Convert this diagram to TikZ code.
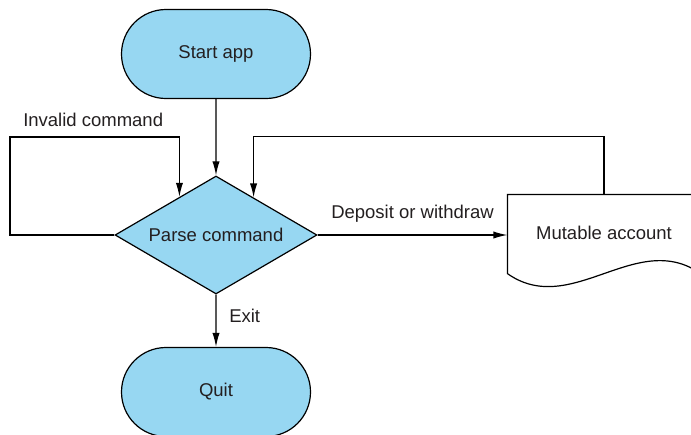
\documentclass[tikz,border=0pt]{standalone}
\usepackage{fontspec}
\setmainfont{Liberation Sans}
\usepackage{xcolor}
\usepackage{tikz}
\usetikzlibrary{arrows.meta,positioning,calc,shapes.misc,shapes.geometric}
\definecolor{flowBlue}{HTML}{97D7F2}
\definecolor{inkGray}{HTML}{231F20}

\begin{document}
\begin{tikzpicture}[x=0.5pt, y=-0.5pt, line width=0.6pt,
  font=\fontsize{9.25}{11}\selectfont, text=inkGray,
  term/.style={draw, fill=flowBlue, rounded rectangle, minimum width=94.5pt, minimum height=44.5pt, inner sep=0pt},
  decision/.style={draw, fill=flowBlue, diamond, aspect=1.71, minimum width=101pt, minimum height=59pt, inner sep=0pt},
  docbox/.style={minimum width=96pt, minimum height=39pt, inner sep=0pt},
  arr/.style={-{Latex[length=7pt, width=3.6pt]}}]
\clip (0,0) rectangle (691,434);
\node[term] (start) at (216,54) {Start app};
\node[decision] (parse) at (216,235) {Parse command};
\node[term] (quit) at (216,392) {Quit};
\node[docbox] (acct) at (604,234) {\raisebox{1.5pt}{Mutable account}};
% document shape with wavy bottom
\draw (acct.south west) -- (acct.north west) -- (acct.north east) -- (acct.south east)
  .. controls ($(acct.south east)+(-64,-45)$) and ($(acct.south west)+(64,45)$) .. (acct.south west) -- cycle;
\coordinate (inL) at ($(parse.west)!0.64!(parse.north)$);
\coordinate (inR) at ($(parse.east)!0.63!(parse.north)$);
\draw[arr] (start) -- (parse);
\draw[arr] (parse.west) -| (10,137) -| (inL);
\node[anchor=west] (invalid) at (16,120) {Invalid command};
\draw[arr] (acct.north) -- ++(0,-58) -| (inR);
\draw[arr] (parse.east) -- node[above=2.5pt] (deposit) {Deposit or withdraw} (parse.east -| acct.west);
\draw[arr] (parse) -- node[pos=0.4, right=3pt] (exit) {Exit} (quit);
\end{tikzpicture}
\end{document}
